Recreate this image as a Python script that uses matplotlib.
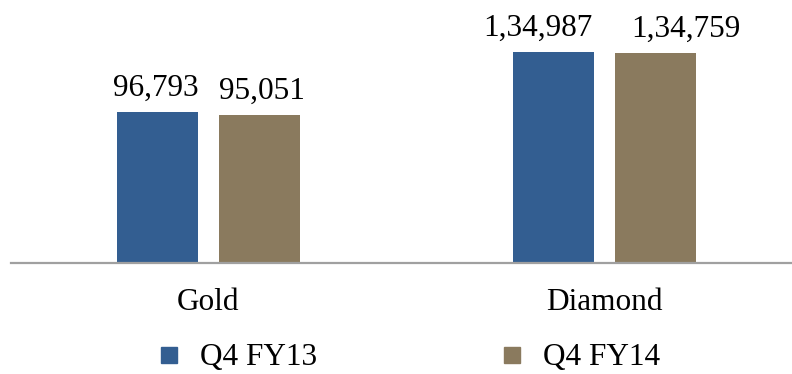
import matplotlib
matplotlib.use("Agg")
import matplotlib.pyplot as plt
from matplotlib.lines import Line2D
import numpy as np

categories = ["Gold", "Diamond"]
series_names = ["Q4 FY13", "Q4 FY14"]
q4_fy13 = [96793, 134987]
q4_fy14 = [95051, 134759]
value_labels_13 = ["96,793", "1,34,987"]
value_labels_14 = ["95,051", "1,34,759"]
colors = ["#335E91", "#8A7A5E"]

plt.rcParams['font.family'] = ['Liberation Serif', 'DejaVu Serif']
FS = 22.5

W, H = 792, 374
fig = plt.figure(figsize=(W / 100, H / 100), dpi=100)
base_px = 263
ax = fig.add_axes([11 / W, (H - base_px) / H, 1 - 11 / W, base_px / H])

x = np.arange(len(categories))
bw = 81 / 396
off = 51 / 396
# horizontal nudges (px) of the value labels, as in the reference
nudge_13 = [-1.5, -15.5]
nudge_14 = [2, 30]
for vals, labs, col, sgn, nud in [(q4_fy13, value_labels_13, colors[0], -1, nudge_13),
                                  (q4_fy14, value_labels_14, colors[1], 1, nudge_14)]:
    b = ax.bar(x + sgn * off, vals, width=bw, color=col, zorder=2)
    for rect, lab, n in zip(b, labs, nud):
        ax.annotate(lab, (rect.get_x() + rect.get_width() / 2, rect.get_height()),
                    xytext=(n * 0.72, 16 * 0.72), textcoords='offset points',
                    ha='center', va='baseline', fontsize=FS, color='black')

ax.set_xlim(-(208.5 - 11) / 396, 1 + (792 - 604.5) / 396)
ax.set_ylim(0, base_px / 0.001562)
ax.set_xticks(x)
ax.set_xticklabels(categories, fontsize=FS)
for lab in ax.get_xticklabels():
    lab.set_va('baseline')
ax.tick_params(axis='x', length=0, pad=47 * 0.72)
ax.set_yticks([])
for s in ['top', 'right', 'left']:
    ax.spines[s].set_visible(False)
ax.spines['bottom'].set_color('#A0A0A0')
ax.spines['bottom'].set_linewidth(1.6)
ax.patch.set_alpha(0)

handles = [Line2D([], [], marker='s', linestyle='none', markersize=12.2,
                  markerfacecolor=c, markeredgecolor=c) for c in colors]
fig.legend(handles, series_names, loc='center left',
           bbox_to_anchor=(153 / W, 16 / H), ncol=2, frameon=False,
           fontsize=FS, handlelength=1.0, handletextpad=0.5,
           columnspacing=5.74, borderpad=0, borderaxespad=0)

fig.savefig("out.png", dpi=100)
